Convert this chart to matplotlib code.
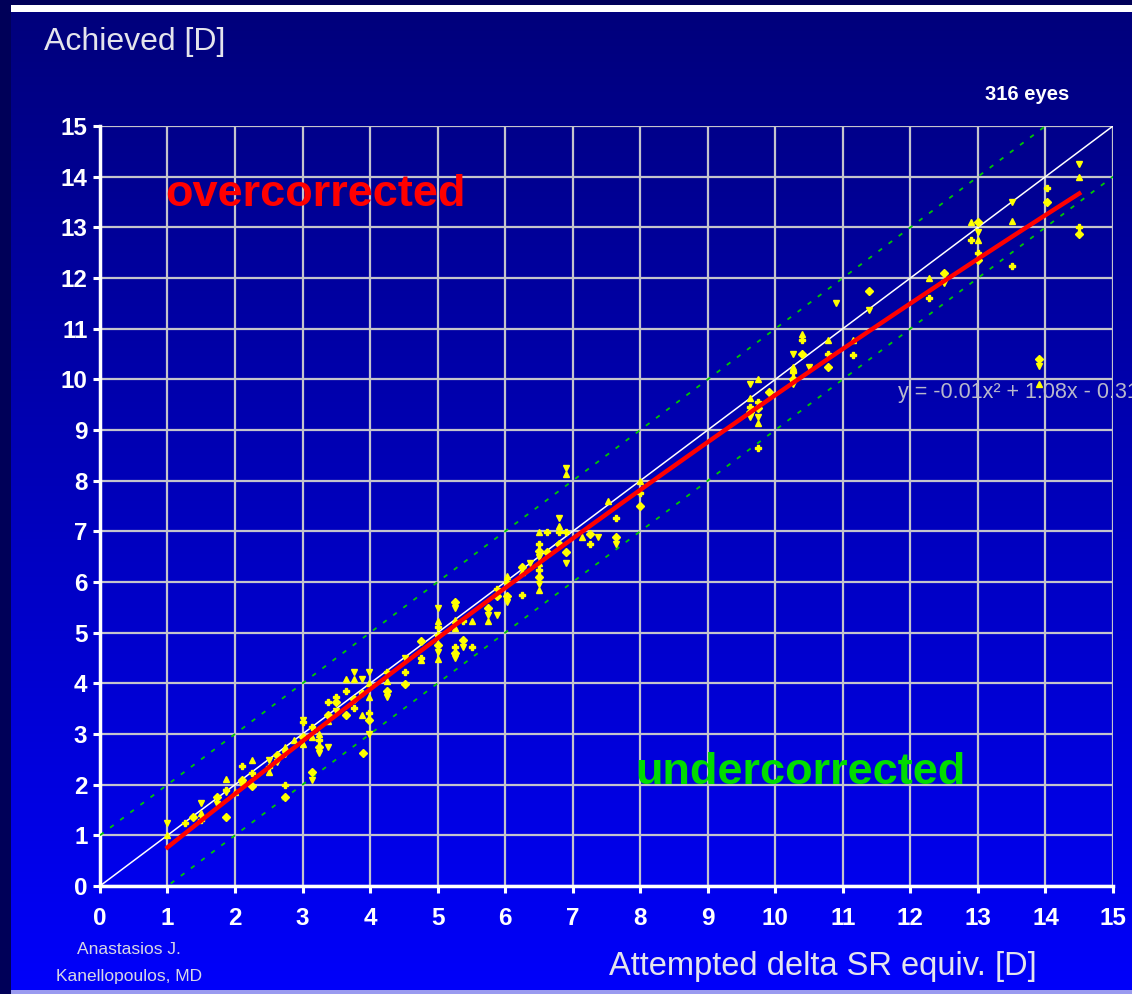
import numpy as np
import matplotlib
matplotlib.use("Agg")
from matplotlib import pyplot as plt
from matplotlib.colors import LinearSegmentedColormap
from matplotlib.patches import Rectangle

plt.rcParams["font.family"] = ["Liberation Sans", "DejaVu Sans"]

# attempted correction (columns) and achieved values
attempted_cols = [1.0, 1.26, 1.38, 1.5, 1.73, 1.87, 2.0, 2.1, 2.25, 2.5, 2.62, 2.74,
                  2.87, 3.0, 3.14, 3.25, 3.38, 3.5, 3.64, 3.76, 3.88, 3.9, 3.98,
                  4.25, 4.52, 4.76, 5.0, 5.26, 5.38, 5.51, 5.75, 5.88, 6.03, 6.25,
                  6.37, 6.5, 6.62, 6.79, 6.9, 7.14, 7.25, 7.38, 7.52, 7.64, 8.0,
                  9.63, 9.75, 9.9, 10.26, 10.4, 10.5, 10.78, 10.9, 11.15, 11.38,
                  12.28, 12.5, 12.9, 13.0, 13.5, 13.9, 14.03, 14.49]
achieved_cols = [
    [1.24, 1.0], [1.24], [1.36], [1.64, 1.44, 1.3], [1.76, 1.62],
    [2.11, 1.9, 1.36, 1.86], [1.86], [2.37, 2.09, 2.0], [2.49, 2.23, 1.97],
    [2.49, 2.25, 2.35], [2.58, 2.45], [2.75, 2.0, 1.76, 2.6], [2.88],
    [3.24, 2.95, 3.28, 2.8], [3.14, 2.25, 2.1, 2.95], [2.88, 2.75, 2.62, 3.0],
    [3.63, 3.37, 2.75, 3.25], [3.73, 3.63, 3.45], [4.08, 3.85, 3.37],
    [4.22, 4.08, 3.51, 3.7], [4.08, 3.37, 3.8], [2.62],
    [4.22, 3.73, 3.41, 3.28, 3.0, 4.0], [4.22, 3.85, 3.73, 4.05],
    [4.22, 3.99, 4.5], [4.46, 4.5, 4.83],
    [5.49, 5.23, 5.11, 4.76, 4.62, 4.48, 4.95],
    [5.6, 5.49, 5.1, 4.72, 4.6, 4.5, 5.25], [5.23, 4.85, 4.72], [5.23, 4.72],
    [5.49, 5.35, 5.23], [5.86, 5.72, 5.35], [6.12, 6.0, 5.73, 5.6],
    [6.2, 5.74, 6.3], [6.37],
    [6.98, 6.75, 6.61, 6.5, 6.37, 6.24, 6.1, 5.97, 5.84], [6.98, 6.6],
    [7.26, 7.1, 6.98, 6.75], [8.25, 8.13, 6.98, 6.6, 6.37], [6.89],
    [6.75, 6.95], [6.89], [7.6], [7.26, 6.89, 6.75], [8.0, 7.75, 7.5],
    [9.9, 9.63, 9.45, 9.35, 9.26], [10.0, 9.55, 9.43, 9.26, 9.13, 8.65], [9.75],
    [10.5, 10.25, 10.15, 10.0, 9.9], [10.9, 10.78, 10.5], [10.25],
    [10.78, 10.5, 10.25], [11.5], [10.78, 10.48], [11.74, 11.37],
    [12.0, 11.6], [12.1, 11.9], [13.1, 12.75], [13.1, 12.9, 12.75, 12.5, 12.35],
    [13.5, 13.12, 12.24], [10.4, 10.26, 9.9], [13.78, 13.5],
    [14.25, 14.0, 13.0, 12.87]]

fit_coef = [-0.008, 1.08, -0.31]   # shown rounded as -0.01x2 + 1.08x - 0.31
fit_range = [1.0, 14.5]
ticks = list(range(16))

attempted = np.concatenate([[a] * len(v) for a, v in zip(attempted_cols, achieved_cols)])
achieved = np.concatenate(achieved_cols)

fig = plt.figure(figsize=(11.32, 9.94), dpi=100, facecolor="#000058")

# slide background: white strip and blue gradient panel
bg = fig.add_axes([0, 0, 1, 1])
bg.axis("off")
grad = LinearSegmentedColormap.from_list("slide", ["#00007c", "#0000fa"])
bg.imshow(np.linspace(0, 1, 256).reshape(-1, 1), cmap=grad, aspect="auto",
          extent=[11, 1132, 990, 12])
bg.add_patch(Rectangle((11, 5), 1121, 7, color="white", lw=0))
bg.add_patch(Rectangle((11, 990), 1121, 4, color="#9a9af0", lw=0))
bg.set_xlim(0, 1132)
bg.set_ylim(994, 0)

ax = fig.add_axes([0.0883, 0.1087, 0.8949, 0.7645])
ax.set_facecolor("none")
ax.set_xlim(0, 15)
ax.set_ylim(0, 15)
ax.set_xticks(ticks)
ax.set_yticks(ticks)
ax.set_axisbelow(True)
ax.grid(True, color="#c4c4cc", lw=1.6)
for s in ["top", "right"]:
    ax.spines[s].set_visible(False)
for s in ["left", "bottom"]:
    ax.spines[s].set_color("white")
    ax.spines[s].set_linewidth(2.5)
ax.tick_params(direction="out", length=5, width=2.2, color="white",
               labelcolor="white", labelsize=17.5)
ax.tick_params(axis="x", pad=10)
ax.tick_params(axis="y", pad=4)
for lbl in ax.get_xticklabels() + ax.get_yticklabels():
    lbl.set_fontweight("bold")

lim = np.array([0, 15])
ax.plot(lim, lim, color="white", lw=1.1, zorder=3)
ax.plot(lim, lim + 1, color="#00c800", lw=1.3, ls=(0, (2.5, 4.5)), zorder=3)
ax.plot(lim, lim - 1, color="#00c800", lw=1.3, ls=(0, (2.5, 4.5)), zorder=3)

markers = ["v", "^", "P", "D"]
for i, m in enumerate(markers):
    ax.plot(attempted[i::4], achieved[i::4], ls="none", marker=m, ms=5 if m != "D" else 4,
            color="#ffff00", mec="#ffff00", zorder=4, clip_on=False)

xf = np.linspace(fit_range[0], fit_range[1], 200)
ax.plot(xf, np.polyval(fit_coef, xf), color="#ff0000", lw=3.2, zorder=5)

ax.text(0.96, 13.64, "overcorrected", color="#ff0000", fontsize=32.5,
        fontweight="bold", va="center", ha="left")
ax.text(7.93, 2.23, "undercorrected", color="#00dc00", fontsize=32.5,
        fontweight="bold", va="center", ha="left")
ax.text(11.82, 9.75, "y = -0.01x\u00b2 + 1.08x - 0.31", color="#b8b8cc",
        fontsize=15.5, va="center", ha="left", clip_on=False)

fig.text(44 / 1132, 1 - 42 / 994, "Achieved [D]", color="#e4e4ec", fontsize=23,
         ha="left", va="center")
fig.text(823 / 1132, 1 - 966 / 994, "Attempted delta SR equiv. [D]", color="#e4e4ec",
         fontsize=23.5, ha="center", va="center")
fig.text(1027 / 1132, 1 - 95 / 994, "316 eyes", color="white", fontsize=14.5,
         fontweight="bold", ha="center", va="center")
fig.text(129 / 1132, 1 - 949 / 994, "Anastasios J.", color="#d8d8e4", fontsize=12.5,
         ha="center", va="center")
fig.text(129 / 1132, 1 - 976 / 994, "Kanellopoulos, MD", color="#d8d8e4",
         fontsize=12.5, ha="center", va="center")

fig.savefig("out.png", dpi=100, facecolor=fig.get_facecolor())
